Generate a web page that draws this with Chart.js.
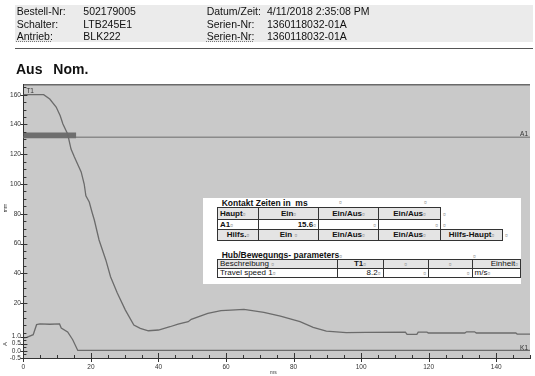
<!DOCTYPE html>
<html>
<head>
<meta charset="utf-8">
<script src="https://cdn.jsdelivr.net/npm/chart.js@4.4.0/dist/chart.umd.min.js"></script>
<style>
  body { margin: 0; width: 535px; height: 376px; position: relative; overflow: hidden; background: #fff;
         font-family: "Liberation Sans", Arial, sans-serif; color: #111; }
  #chart { position: absolute; left: 0; top: 0; }
  .kopf { position: absolute; left: 15px; top: 5px; width: 518px; height: 37px; background: #ebebeb; }
  .txt { position: absolute; font-size: 10.5px; line-height: 12px; white-space: nowrap; }
  .ul { text-decoration: underline dotted #777; }
  .strich { position: absolute; left: 15px; top: 47.5px; width: 518px; height: 1.5px; background: #555; }
  .titel { position: absolute; top: 60.5px; font-size: 14px; line-height: 16px; font-weight: bold; }
  .box { position: absolute; left: 203px; top: 198px; width: 318px; height: 86px; background: #fff; }
  .cap { position: absolute; font-size: 8.5px; line-height: 10px; font-weight: bold; white-space: nowrap; }
  table { position: absolute; border-collapse: collapse; table-layout: fixed; font-size: 8px; line-height: 8px; }
  td { border: 1px solid #333; padding: 0 2px; white-space: nowrap; overflow: hidden; }
  .tb td { font-weight: bold; }
  .g td { background: #e4e4e4; }
  .c { text-align: center; }
  .r { text-align: right; }
  i { font-style: normal; font-size: 5px; color: #999; font-weight: normal; }
  .mk { position: absolute; font-size: 5px; color: #999; }
</style>
</head>
<body>
<canvas id="chart" width="535" height="376"></canvas>

<!-- Kopfdaten -->
<div class="kopf"></div>
<div class="txt" style="left:16.7px;top:5px">Bestell-Nr:</div>
<div class="txt" style="left:83.3px;top:5px">502179005</div>
<div class="txt" style="left:206.7px;top:5px">Datum/Zeit:</div>
<div class="txt" style="left:267px;top:5px">4/11/2018 2:35:08 PM</div>
<div class="txt" style="left:16.7px;top:17.5px">Schalter:</div>
<div class="txt" style="left:83.3px;top:17.5px">LTB245E1</div>
<div class="txt" style="left:206.7px;top:17.5px">Serien-Nr:</div>
<div class="txt" style="left:267px;top:17.5px">1360118032-01A</div>
<div class="txt ul" style="left:16.7px;top:29.5px">Antrieb:</div>
<div class="txt" style="left:83.3px;top:29.5px">BLK222</div>
<div class="txt ul" style="left:206.7px;top:29.5px">Serien-Nr:</div>
<div class="txt" style="left:267px;top:29.5px">1360118032-01A</div>
<div class="strich"></div>
<div class="titel" style="left:16px">Aus</div>
<div class="titel" style="left:53.3px">Nom.</div>

<!-- Tabellen im Diagramm -->
<div class="box"></div>
<div class="cap" style="left:221.7px;top:198px">Kontakt Zeiten in&nbsp; ms</div>
<span class="mk" style="left:339px;top:199px">¤</span>
<span class="mk" style="left:424px;top:199px">¤</span>
<table class="tb" style="left:217px;top:207px;width:285px">
  <colgroup><col style="width:41px"><col style="width:60px"><col style="width:60px"><col style="width:62px"><col style="width:62px"></colgroup>
  <tr class="g" style="height:12px"><td>Haupt<i>¤</i></td><td class="c">Ein<i>¤</i></td><td class="c">Ein/Aus<i>¤</i></td><td class="c">Ein/Aus<i>¤</i></td></tr>
  <tr style="height:10px"><td>A1<i>¤</i></td><td class="r">15.6<i>¤</i></td><td class="r"><i>¤</i></td><td class="r"><i>¤</i></td></tr>
  <tr class="g" style="height:10.5px"><td class="c">Hilfs.<i>¤</i></td><td class="c">Ein <i>¤</i></td><td class="c">Ein/Aus<i>¤</i></td><td class="c">Ein/Aus<i>¤</i></td><td class="c">Hilfs-Haupt<i>¤</i></td></tr>
</table>
<span class="mk" style="left:443px;top:211px">¤</span>
<span class="mk" style="left:443px;top:222px">¤</span>
<span class="mk" style="left:505px;top:232px">¤</span>
<div class="cap" style="left:221.7px;top:250px">Hub/Bewegungs- parameters<i>¤</i></div>
<span class="mk" style="left:473px;top:253px">¤</span>
<table style="left:217px;top:259px;width:303px">
  <colgroup><col style="width:119.5px"><col style="width:46px"><col style="width:45.5px"><col style="width:43.5px"><col style="width:48.5px"></colgroup>
  <tr class="g" style="height:8.5px"><td>Beschreibung <i>¤</i></td><td class="c"><b>T1</b><i>¤</i></td><td class="c"><i>¤</i></td><td class="c"><i>¤</i></td><td class="r">Einheit<i>¤</i></td></tr>
  <tr style="height:8.5px"><td>Travel speed 1<i>¤</i></td><td class="r">8.2<i>¤</i></td><td class="r"><i>¤</i></td><td class="r"><i>¤</i></td><td>m/s<i>¤</i></td></tr>
</table>

<script>
// Hub T1: Zeit in ms und Weg in mm
const t1Ms = [0, 6.0, 7.8, 9.7, 10.9, 11.7, 13.1, 14.1, 15.1, 17.1, 18.0, 18.5, 19.5, 20.3, 21.0, 22.4, 24.4,
  25.8, 27.8, 30.2, 32.7, 34.6, 37.0, 40.0, 43.4, 45.8, 48.8, 49.7, 54.6, 58.5, 61.4, 65.3, 71.2, 76.1, 81.9,
  85.8, 89.7, 95.6, 101.4, 113.1, 113.6, 116.5, 116.9, 119.5, 119.9, 130.7, 131.2, 133.6, 134.1, 145.8, 146.2, 150];
const t1Mm = [160, 160, 157.1, 151.7, 145.9, 140.3, 133.6, 123.5, 118.1, 108.1, 100.0, 92.1, 87.9, 81.2, 75.8, 62.4, 49.0,
  37.7, 26.7, 15.3, 5.2, 3.0, 1.4, 1.9, 4.1, 5.9, 7.5, 9.1, 13.1, 14.9, 15.3, 15.8, 13.8, 11.3, 7.5,
  3.7, 1.2, 0.1, 0.3, 0.5, -1.0, -1.0, 0.5, 0.5, -0.1, -0.1, 0.7, 0.7, -0.1, -0.1, -0.8, -0.8];

// Kontakt K1: Zeit in ms und Strom in A
const k1Ms = [0, 1.0, 2.9, 3.9, 4.9, 7.8, 10.7, 11.2, 13.1, 14.6, 16.1, 150];
const k1A = [0.9, 0.94, 1.13, 1.83, 1.88, 1.86, 1.88, 1.6, 1.32, 0.78, 0.03, 0.03];

// Schaltpunkt A1 (Ein = 15.6 ms)
const a1Hub = 131.4;
const a1Ein = 15.6;

// Achsenbeschriftungen
const xLabels = [0, 20, 40, 60, 80, 100, 120, 140];
const hubLabels = [20, 40, 60, 80, 100, 120, 140, 160];
const stromLabels = [-0.5, 0, 0.5, 1.0];

const FONT = "'Liberation Sans', Arial, sans-serif";

// Teilstriche (alle 5 ms, alle 5 mm, alle 0.25 A)
const xTicks = [];
for (let v = 0; v <= 150; v += 5) xTicks.push(v);
const hubTicks = [];
for (let v = 0; v <= 165; v += 5) hubTicks.push(v);
const stromTicks = [];
for (let v = -0.5; v <= 1.0; v += 0.25) stromTicks.push(v);

function toPoints(xs, ys) {
  return xs.map((x, i) => ({ x: x, y: ys[i] }));
}

// Grauer Hintergrund der Zeichenfläche
const plotBackground = {
  id: "plotBackground",
  beforeDraw(chart) {
    const { ctx, chartArea: a } = chart;
    ctx.save();
    ctx.fillStyle = "#c9c9c9";
    ctx.fillRect(a.left, a.top, a.right - a.left, a.bottom - a.top);
    ctx.strokeStyle = "#6a6a6a";
    ctx.lineWidth = 1.5;
    ctx.beginPath();
    ctx.moveTo(a.left, a.top + 0.75);
    ctx.lineTo(a.right, a.top + 0.75);
    ctx.stroke();
    ctx.restore();
  }
};

// Teilstriche, untere Achse (A) und Kurvennamen
const marks = {
  id: "marks",
  afterDraw(chart) {
    const { ctx, chartArea: a, scales } = chart;
    ctx.save();
    ctx.strokeStyle = "#333";
    ctx.lineWidth = 1;
    ctx.beginPath();
    scales.x.ticks.forEach(t => {
      const px = Math.round(scales.x.getPixelForValue(t.value)) + 0.5;
      const major = xLabels.includes(t.value);
      ctx.moveTo(px, a.bottom - (major ? 5 : 3));
      ctx.lineTo(px, a.bottom + (major ? 4 : 0));
    });
    hubTicks.forEach(v => {
      const py = Math.round(scales.y.getPixelForValue(v)) + 0.5;
      const major = hubLabels.includes(v);
      ctx.moveTo(a.left - (major ? 3 : 0), py);
      ctx.lineTo(a.left + (major ? 4 : 3), py);
    });
    stromTicks.forEach(v => {
      const py = Math.round(scales.y2.getPixelForValue(v)) + 0.5;
      const major = stromLabels.includes(v);
      ctx.moveTo(a.left - (major ? 3 : 0), py);
      ctx.lineTo(a.left + (major ? 4 : 3), py);
    });
    ctx.stroke();

    ctx.fillStyle = "#333";
    ctx.font = "6.5px " + FONT;
    ctx.textAlign = "right";
    ctx.textBaseline = "middle";
    stromLabels.forEach(v => {
      ctx.fillText(v.toFixed(1), a.left - 2.5, scales.y2.getPixelForValue(v));
    });

    ctx.textBaseline = "alphabetic";
    ctx.textAlign = "left";
    ctx.fillText("T1", scales.x.getPixelForValue(0) + 3, scales.y.getPixelForValue(160) - 1.5);
    ctx.textAlign = "right";
    ctx.fillText("A1", a.right - 2, scales.y.getPixelForValue(a1Hub) - 1);
    ctx.fillText("K1", a.right - 2, scales.y2.getPixelForValue(0) - 1);
    ctx.textAlign = "center";
    ctx.font = "5px " + FONT;
    ctx.fillText("ms", scales.x.getPixelForValue(74), 374);

    // Achsentitel links, gedreht
    ctx.save();
    ctx.translate(6.5, 208);
    ctx.rotate(-Math.PI / 2);
    ctx.fillText("mm", 0, 0);
    ctx.restore();
    ctx.save();
    ctx.translate(6.5, 344);
    ctx.rotate(-Math.PI / 2);
    ctx.font = "6px " + FONT;
    ctx.fillText("A", 0, 0);
    ctx.restore();
    ctx.restore();
  }
};

const lineStyle = { pointRadius: 0, tension: 0, fill: false };

new Chart(document.getElementById("chart"), {
  type: "line",
  data: {
    datasets: [
      Object.assign({ label: "T1", data: toPoints(t1Ms, t1Mm), yAxisID: "y", borderColor: "#6b6b6b", borderWidth: 1.3 }, lineStyle),
      Object.assign({ label: "K1", data: toPoints(k1Ms, k1A), yAxisID: "y2", borderColor: "#6b6b6b", borderWidth: 1.3 }, lineStyle),
      Object.assign({ label: "A1 Ein", data: [{ x: 0, y: a1Hub + 1.3 }, { x: a1Ein, y: a1Hub + 1.3 }], yAxisID: "y",
        borderColor: "#6e6e6e", borderWidth: 5.6, borderCapStyle: "butt" }, lineStyle),
      Object.assign({ label: "A1", data: [{ x: 0, y: a1Hub }, { x: 150, y: a1Hub }], yAxisID: "y",
        borderColor: "#8a8a8a", borderWidth: 1.6 }, lineStyle)
    ]
  },
  options: {
    responsive: false,
    animation: false,
    devicePixelRatio: 1,
    layout: { padding: { top: 84, left: 0, right: 0, bottom: 0 } },
    plugins: { legend: { display: false }, tooltip: { enabled: false } },
    scales: {
      x: {
        type: "linear",
        min: 0,
        max: 150,
        afterBuildTicks: s => { s.ticks = xTicks.map(v => ({ value: v })); },
        afterFit: s => { s.height = 18; },
        grid: { display: false, drawTicks: false },
        border: { display: true, color: "#333", width: 1 },
        ticks: {
          autoSkip: false, maxRotation: 0, padding: 5, color: "#333",
          font: { size: 6.5, family: FONT },
          callback: v => xLabels.includes(v) ? String(v) : ""
        }
      },
      y: {
        type: "linear",
        position: "left",
        min: -16.9,
        max: 167.2,
        afterBuildTicks: s => { s.ticks = hubTicks.map(v => ({ value: v })); },
        afterFit: s => { s.width = 23.4; },
        grid: { display: false, drawTicks: false },
        border: { display: true, color: "#333", width: 1 },
        ticks: {
          autoSkip: false, padding: 2.5, color: "#333",
          font: { size: 6.5, family: FONT },
          callback: v => hubLabels.includes(v) ? String(v) : ""
        }
      },
      // untere Skala für den Kontaktstrom, Beschriftung im Plugin
      y2: {
        type: "linear",
        display: false,
        min: -0.5,
        max: 18.66
      }
    }
  },
  plugins: [plotBackground, marks]
});
</script>
</body>
</html>
